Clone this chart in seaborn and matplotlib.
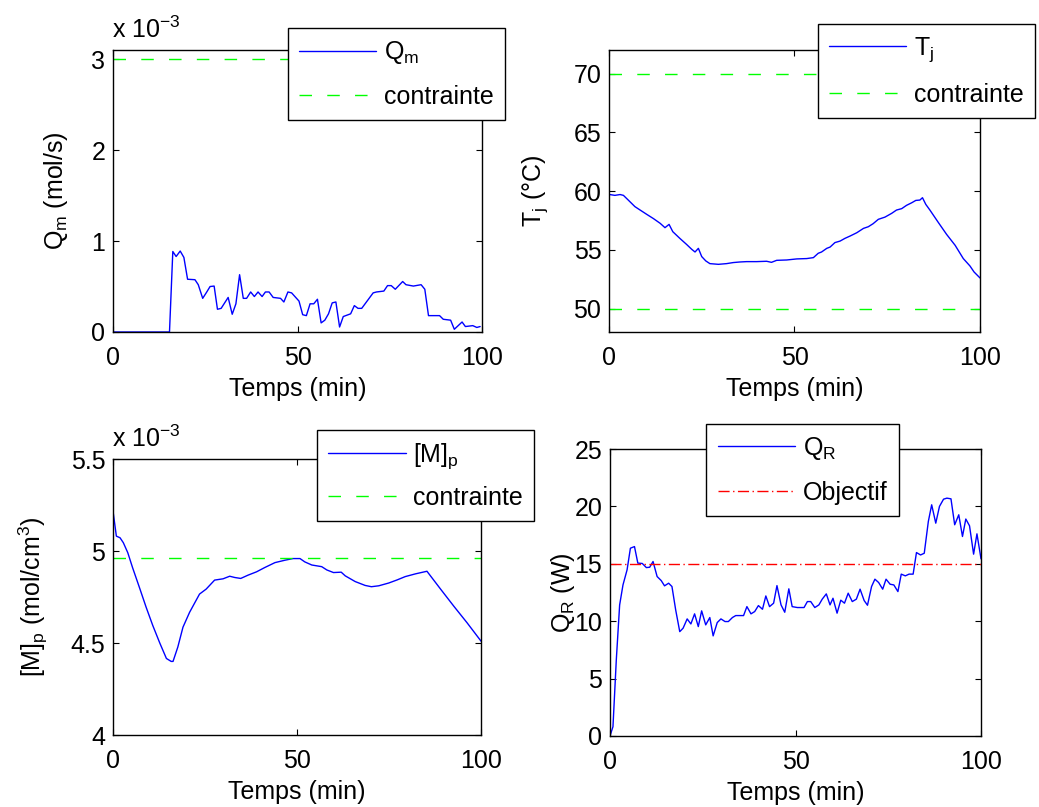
import numpy as np
import pandas as pd
import seaborn as sns
import matplotlib.pyplot as plt
from matplotlib.ticker import FuncFormatter

# Q_m (x 10^-3 mol/s)
qm_t = [0, 15.3, 16.2, 17.1, 18.2, 19.2, 20.2, 22.2, 23.1, 24.3, 25.4, 26.3, 27.4, 28.3, 29.3, 31.2, 32.3, 33.3,
        34.3, 35.3, 36.2, 37.3, 38.3, 39.3, 40.4, 41.3, 42.3, 43.4, 45.4, 46.3, 47.4, 48.4, 50.4, 51.4, 52.4,
        53.4, 54.4, 55.4, 56.4, 57.4, 58.4, 59.4, 60.4, 61.4, 62.4, 64.4, 65.4, 66.4, 67.4, 70.5, 71.4, 73.4,
        74.4, 75.4, 76.5, 78.5, 79.4, 81.4, 83.5, 84.5, 85.5, 88.5, 89.5, 91.5, 92.5, 94.6, 95.5, 97.5, 98.6, 99.5]
qm = [0, 0, 0.885, 0.83, 0.89, 0.82, 0.58, 0.575, 0.52, 0.37, 0.44, 0.50, 0.505, 0.25, 0.26, 0.38, 0.195, 0.31,
      0.63, 0.37, 0.37, 0.44, 0.39, 0.44, 0.39, 0.44, 0.44, 0.38, 0.37, 0.33, 0.44, 0.43, 0.34, 0.19, 0.18,
      0.31, 0.31, 0.36, 0.10, 0.13, 0.20, 0.32, 0.33, 0.055, 0.17, 0.20, 0.29, 0.26, 0.26, 0.43, 0.44, 0.45,
      0.51, 0.51, 0.47, 0.555, 0.52, 0.505, 0.52, 0.47, 0.18, 0.18, 0.14, 0.13, 0.03, 0.11, 0.06, 0.07, 0.05, 0.06]
qm_max = 3.0

# T_j (degC)
tj_t = [0, 1.6, 3.0, 3.9, 5.2, 7.0, 8.4, 10.2, 12.0, 13.8, 15.1, 16.2, 17.2, 19.1, 20.9, 22.3, 23.2, 24.1,
        25.0, 26.1, 27.2, 29.5, 31.7, 33.5, 35.3, 37.1, 39.8, 42.5, 43.8, 45.2, 47.9, 50.6, 53.3, 55.1, 56.4,
        57.3, 58.7, 59.6, 60.9, 62.3, 63.6, 65.0, 66.8, 68.6, 69.9, 71.2, 72.6, 74.4, 76.2, 77.5, 78.9, 80.2,
        81.6, 82.7, 83.8, 84.5, 85.4, 86.5, 88.8, 91.0, 93.3, 95.5, 97.3, 98.4, 100]
tj = [59.71, 59.63, 59.70, 59.63, 59.23, 58.67, 58.38, 58.01, 57.65, 57.25, 56.88, 57.16, 56.54, 55.97, 55.46,
      55.04, 54.81, 55.12, 54.42, 54.05, 53.82, 53.76, 53.82, 53.91, 53.96, 53.99, 53.99, 54.02, 53.93, 54.10,
      54.13, 54.22, 54.25, 54.33, 54.70, 54.81, 55.12, 55.23, 55.61, 55.74, 55.97, 56.17, 56.45, 56.82, 56.96,
      57.22, 57.59, 57.78, 58.10, 58.38, 58.50, 58.78, 59.00, 59.20, 59.23, 59.43, 58.86, 58.38, 57.31, 56.31,
      55.38, 54.25, 53.62, 53.11, 52.60]
tj_min = 50
tj_max = 70

# [M]_p (x 10^-3 mol/cm3)
mp_t = [0, 0.9, 1.9, 2.8, 4.0, 5.3, 7.2, 9.0, 10.8, 12.7, 14.5, 15.8, 16.3, 17.6, 19.0, 20.8, 23.5, 25.3, 27.6,
        29.9, 31.7, 33.1, 34.7, 36.7, 39.0, 41.2, 44.0, 46.7, 48.9, 50.8, 52.1, 54.0, 56.7, 58.1, 59.9, 62.0,
        63.1, 65.8, 68.5, 70.2, 72.2, 74.9, 77.2, 79.4, 82.2, 85.3, 89.0, 92.6, 96.2, 100]
mp = [5.216, 5.081, 5.072, 5.045, 4.991, 4.91, 4.80, 4.694, 4.595, 4.50, 4.416, 4.40, 4.40, 4.478, 4.586, 4.667,
      4.766, 4.793, 4.842, 4.849, 4.863, 4.856, 4.851, 4.869, 4.887, 4.91, 4.937, 4.95, 4.959, 4.959, 4.941,
      4.924, 4.915, 4.897, 4.883, 4.885, 4.865, 4.834, 4.813, 4.806, 4.811, 4.826, 4.843, 4.861, 4.876, 4.89,
      4.793, 4.70, 4.61, 4.51]
mp_max = 4.96

# Q_R (W)
qr_t = [0, 0.8, 1.7, 2.6, 3.5, 4.6, 5.5, 6.6, 7.5, 8.7, 9.8, 10.7, 11.6, 12.7, 13.8, 14.7, 15.8, 16.7, 17.7,
        18.8, 19.7, 20.8, 21.8, 22.8, 23.8, 24.7, 25.8, 26.9, 27.8, 28.9, 29.9, 31.0, 31.9, 33.0, 33.9, 34.9,
        36.0, 36.9, 38.0, 39.0, 40.0, 41.1, 42.0, 43.0, 44.1, 45.0, 46.1, 47.1, 48.2, 49.1, 50.5, 52.3, 53.2,
        54.1, 55.2, 56.3, 57.2, 58.3, 59.3, 60.1, 61.2, 62.2, 63.2, 64.2, 65.3, 66.4, 67.4, 68.5, 69.4, 70.5,
        71.4, 72.4, 73.5, 74.4, 75.5, 76.5, 77.6, 78.5, 79.6, 80.6, 81.7, 82.6, 83.7, 84.7, 85.8, 86.7, 87.8,
        88.8, 89.9, 90.8, 91.9, 92.9, 94.0, 95.0, 95.9, 96.9, 98.0, 98.9, 100]
qr = [0, 0.81, 6.63, 11.42, 13.16, 14.47, 16.36, 16.5, 15.06, 15.03, 14.67, 14.7, 15.2, 13.89, 13.54, 13.08,
      13.31, 13.02, 10.99, 9.09, 9.39, 10.2, 9.76, 10.64, 9.53, 10.9, 9.68, 10.32, 8.72, 9.88, 10.2, 9.97, 9.97,
      10.32, 10.49, 10.49, 10.49, 11.27, 10.64, 10.84, 11.36, 11.04, 12.2, 11.27, 11.57, 13.1, 11.42, 10.78,
      12.82, 11.27, 11.19, 11.19, 11.71, 11.71, 11.19, 11.42, 11.92, 12.38, 11.42, 12.0, 10.7, 11.83, 11.57,
      12.44, 11.71, 11.92, 12.79, 11.8, 11.39, 13.02, 13.66, 13.37, 12.79, 13.66, 13.22, 13.16, 12.58, 14.1,
      13.95, 14.1, 14.1, 15.98, 15.77, 15.92, 18.69, 20.14, 18.54, 20.0, 20.63, 20.72, 20.66, 18.4, 19.27,
      17.38, 18.9, 18.31, 15.84, 17.61, 15.43]
qr_obj = 15

sns.set_theme(style='ticks', rc={
    'xtick.direction': 'in', 'ytick.direction': 'in',
    'xtick.top': True, 'ytick.right': True,
    'xtick.major.size': 4, 'ytick.major.size': 4,
    'xtick.major.width': 0.8, 'ytick.major.width': 0.8,
    'xtick.major.pad': 10, 'ytick.major.pad': 5.5,
    'axes.linewidth': 1.0, 'axes.edgecolor': 'black',
    'text.color': 'black', 'axes.labelcolor': 'black',
    'xtick.color': 'black', 'ytick.color': 'black',
    'font.size': 18, 'axes.labelsize': 18, 'xtick.labelsize': 18, 'ytick.labelsize': 18,
    'legend.fontsize': 18,
})
plt.rcParams['font.family'] = ['Liberation Sans', 'DejaVu Sans']
plt.rcParams['mathtext.fontset'] = 'custom'
plt.rcParams['mathtext.rm'] = 'Liberation Sans'

fig = plt.figure(figsize=(10.39, 8.07), dpi=100)
ax1 = fig.add_axes([0.1088, 0.5886, 0.3551, 0.3494])
ax2 = fig.add_axes([0.5861, 0.5886, 0.3571, 0.3494])
ax3 = fig.add_axes([0.1088, 0.0892, 0.3542, 0.3420])
ax4 = fig.add_axes([0.5871, 0.0880, 0.3571, 0.3556])

fmt = FuncFormatter(lambda v, p: '%g' % v)
green_dash = (0, (9, 11))
red_dashdot = (0, (8, 2.5, 1, 2.5))

def legend(ax, x, y, spacing=0.75):
    leg = ax.legend(loc='upper right', bbox_to_anchor=(x, y), bbox_transform=fig.transFigure,
                    fancybox=False, edgecolor='black', framealpha=1, borderaxespad=0,
                    handlelength=3.1, handletextpad=0.3, borderpad=0.45, labelspacing=spacing)
    leg.get_frame().set_linewidth(1.0)

def finish(ax, yticks, ylim, ylabel, ylabel_x):
    ax.set_xlim(0, 100)
    ax.set_xticks([0, 50, 100])
    ax.set_ylim(*ylim)
    ax.set_yticks(yticks)
    ax.yaxis.set_major_formatter(fmt)
    ax.set_xlabel('Temps (min)', labelpad=5)
    ax.set_ylabel(ylabel)
    ax.yaxis.set_label_coords(ylabel_x, 0.5)
    for s in ax.spines.values():
        s.set_visible(True)

# Q_m
sns.lineplot(x=qm_t, y=qm, ax=ax1, color='blue', lw=1.0, label=r'Q$_\mathregular{m}$')
ax1.axhline(qm_max, color='#00ff00', lw=1.0, linestyle=green_dash, label='contrainte')
finish(ax1, [0, 1, 2, 3], (0, 3.1), r'Q$_\mathregular{m}$ (mol/s)', -0.117)
ax1.annotate(r'x 10$^\mathregular{-3}$', xy=(0, 1), xycoords='axes fraction', xytext=(-1, 9),
             textcoords='offset points', ha='left', va='baseline', fontsize=18)
legend(ax1, 0.486, 0.9653)

# T_j
sns.lineplot(x=tj_t, y=tj, ax=ax2, color='blue', lw=1.0, label=r'T$_\mathregular{j}$')
ax2.axhline(tj_max, color='#00ff00', lw=1.0, linestyle=green_dash, label='contrainte')
ax2.axhline(tj_min, color='#00ff00', lw=1.0, linestyle=green_dash)
finish(ax2, [50, 55, 60, 65, 70], (48, 72), r'T$_\mathregular{j}$ (°C)', -0.16)
legend(ax2, 0.996, 0.970)

# [M]_p
sns.lineplot(x=mp_t, y=mp, ax=ax3, color='blue', lw=1.0, label=r'[M]$_\mathregular{p}$')
ax3.axhline(mp_max, color='#00ff00', lw=1.0, linestyle=green_dash, label='contrainte')
finish(ax3, [4, 4.5, 5, 5.5], (4, 5.5), r'[M]$_\mathregular{p}$ (mol/cm$^\mathregular{3}$)', -0.172)
ax3.annotate(r'x 10$^\mathregular{-3}$', xy=(0, 1), xycoords='axes fraction', xytext=(-1, 9),
             textcoords='offset points', ha='left', va='baseline', fontsize=18)
legend(ax3, 0.514, 0.467, spacing=0.6)

# Q_R
sns.lineplot(x=qr_t, y=qr, ax=ax4, color='blue', lw=1.0, label=r'Q$_\mathregular{R}$')
ax4.axhline(qr_obj, color='red', lw=1.0, linestyle=red_dashdot, label='Objectif')
finish(ax4, [0, 5, 10, 15, 20, 25], (0, 25), r'Q$_\mathregular{R}$ (W)', -0.09)
legend(ax4, 0.865, 0.4746)

fig.savefig('out.png', dpi=100)
